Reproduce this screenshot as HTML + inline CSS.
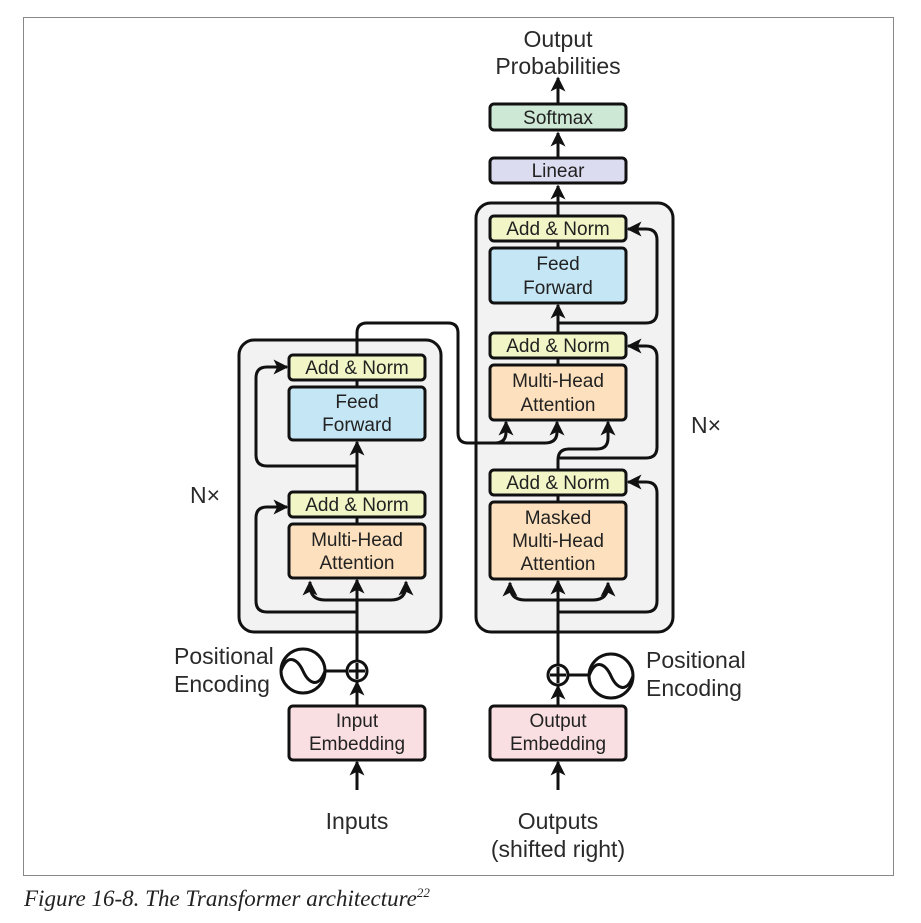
<!DOCTYPE html>
<html><head><style>
html,body{margin:0;padding:0;background:#fff;}
svg{display:block;}
text{font-family:"Liberation Sans",sans-serif;font-size:19px;fill:#222;}
.o{font-size:23px;fill:#2a2a2a;}
.b{stroke:#111;stroke-width:3;}
.l{stroke:#111;stroke-width:3;fill:none;}
</style></head><body>
<svg width="921" height="923" viewBox="0 0 921 923">
<defs>
<marker id="a" viewBox="0 0 10 10" refX="9" refY="5" markerWidth="5" markerHeight="5" orient="auto" markerUnits="strokeWidth">
<path d="M0,0 L10,5 L0,10 L2.5,5 z" fill="#111"/></marker>
</defs>
<rect x="23.5" y="17.5" width="870" height="858" fill="#fff" stroke="#888" stroke-width="1"/>
<rect x="239" y="340" width="202" height="292" rx="15" fill="#f2f2f2" class="b"/>
<rect x="476" y="203" width="197" height="429" rx="15" fill="#f2f2f2" class="b"/>

<path class="l" d="M357 790 V762" marker-end="url(#a)"/>
<path class="l" d="M357 706 V682" marker-end="url(#a)"/>
<path class="l" d="M357 661 V580" marker-end="url(#a)"/>
<path class="l" d="M357 600 H325 Q310 600 310 585 V582" marker-end="url(#a)"/>
<path class="l" d="M357 600 H391 Q406 600 406 585 V582" marker-end="url(#a)"/>
<path class="l" d="M357 612 H267 Q256 612 256 601 V518 Q256 507 267 507 H287" marker-end="url(#a)"/>
<path class="l" d="M357 492 V442" marker-end="url(#a)"/>
<path class="l" d="M357 466 H267 Q256 466 256 455 V378 Q256 367 267 367 H287" marker-end="url(#a)"/>
<path class="l" d="M357 355 V333 Q357 323 367 323 H448 Q458 323 458 333 V433 Q458 443 468 443 H495 Q506 443 506 432 V422" marker-end="url(#a)"/>
<path class="l" d="M495 443 H545 Q557 443 557 432 V422" marker-end="url(#a)"/>
<line class="l" x1="357" y1="387" x2="357" y2="380"/>
<line class="l" x1="357" y1="524" x2="357" y2="517"/>

<path class="l" d="M558 790 V762" marker-end="url(#a)"/>
<path class="l" d="M558 706 V686" marker-end="url(#a)"/>
<path class="l" d="M558 665 V581" marker-end="url(#a)"/>
<path class="l" d="M558 600 H525 Q510 600 510 585 V583" marker-end="url(#a)"/>
<path class="l" d="M558 600 H593 Q608 600 608 585 V583" marker-end="url(#a)"/>
<path class="l" d="M558 612 H646 Q657 612 657 601 V493 Q657 482 646 482 H628" marker-end="url(#a)"/>
<line class="l" x1="558" y1="502" x2="558" y2="495"/>
<path class="l" d="M558 470 V460 Q558 449 569 449 H597 Q608 449 608 438 V422" marker-end="url(#a)"/>
<path class="l" d="M558 458 H646 Q657 458 657 447 V357 Q657 346 646 346 H628" marker-end="url(#a)"/>
<line class="l" x1="558" y1="365" x2="558" y2="358"/>
<path class="l" d="M558 333 V305" marker-end="url(#a)"/>
<path class="l" d="M558 323 H646 Q657 323 657 312 V240 Q657 229 646 229 H628" marker-end="url(#a)"/>
<line class="l" x1="558" y1="248" x2="558" y2="241"/>
<path class="l" d="M558 216 V186" marker-end="url(#a)"/>
<path class="l" d="M558 158 V133" marker-end="url(#a)"/>
<path class="l" d="M558 105 V78" marker-end="url(#a)"/>

<rect x="289" y="355" width="136" height="25" rx="4" fill="#f2f5c6" class="b"/>
<text x="357" y="374" text-anchor="middle">Add &amp; Norm</text>
<rect x="289" y="387" width="136" height="53" rx="4" fill="#c5e6f5" class="b"/>
<text x="357" y="408" text-anchor="middle">Feed</text>
<text x="357" y="431" text-anchor="middle">Forward</text>
<rect x="289" y="492" width="136" height="25" rx="4" fill="#f2f5c6" class="b"/>
<text x="357" y="511" text-anchor="middle">Add &amp; Norm</text>
<rect x="289" y="524" width="136" height="54" rx="4" fill="#fde1be" class="b"/>
<text x="357" y="546" text-anchor="middle">Multi-Head</text>
<text x="357" y="569" text-anchor="middle">Attention</text>
<rect x="289" y="706" width="136" height="54" rx="4" fill="#fadfe2" class="b"/>
<text x="357" y="727" text-anchor="middle">Input</text>
<text x="357" y="750" text-anchor="middle">Embedding</text>

<rect x="490" y="104" width="136" height="26" rx="4" fill="#cde8d5" class="b"/>
<text x="558" y="124" text-anchor="middle">Softmax</text>
<rect x="490" y="158" width="136" height="25" rx="4" fill="#dcdcf0" class="b"/>
<text x="558" y="177" text-anchor="middle">Linear</text>
<rect x="490" y="216" width="136" height="25" rx="4" fill="#f2f5c6" class="b"/>
<text x="558" y="235" text-anchor="middle">Add &amp; Norm</text>
<rect x="490" y="248" width="136" height="55" rx="4" fill="#c5e6f5" class="b"/>
<text x="558" y="270" text-anchor="middle">Feed</text>
<text x="558" y="294" text-anchor="middle">Forward</text>
<rect x="490" y="333" width="136" height="25" rx="4" fill="#f2f5c6" class="b"/>
<text x="558" y="352" text-anchor="middle">Add &amp; Norm</text>
<rect x="490" y="365" width="136" height="55" rx="4" fill="#fde1be" class="b"/>
<text x="558" y="387" text-anchor="middle">Multi-Head</text>
<text x="558" y="411" text-anchor="middle">Attention</text>
<rect x="490" y="470" width="136" height="25" rx="4" fill="#f2f5c6" class="b"/>
<text x="558" y="489" text-anchor="middle">Add &amp; Norm</text>
<rect x="490" y="502" width="136" height="77" rx="4" fill="#fde1be" class="b"/>
<text x="558" y="524" text-anchor="middle">Masked</text>
<text x="558" y="547" text-anchor="middle">Multi-Head</text>
<text x="558" y="570" text-anchor="middle">Attention</text>
<rect x="490" y="706" width="136" height="54" rx="4" fill="#fadfe2" class="b"/>
<text x="558" y="727" text-anchor="middle">Output</text>
<text x="558" y="750" text-anchor="middle">Embedding</text>

<line class="l" x1="325" y1="671" x2="347" y2="671"/>
<circle cx="357" cy="671" r="10" fill="#fff" class="b" stroke-width="2"/>
<path class="l" stroke-width="2" d="M357 663 V679 M349 671 H365"/>
<circle cx="303" cy="671" r="22" fill="#fff" class="b"/>
<path class="l" stroke-width="2.5" d="M281 671 C288 652 298 660 303 671 C308 682 318 690 325 671"/>

<line class="l" x1="568" y1="675" x2="589" y2="675"/>
<circle cx="558" cy="675" r="10" fill="#fff" class="b" stroke-width="2"/>
<path class="l" stroke-width="2" d="M558 667 V683 M550 675 H566"/>
<circle cx="611" cy="676" r="22" fill="#fff" class="b"/>
<path class="l" stroke-width="2.5" d="M589 676 C596 657 606 665 611 676 C616 687 626 695 633 676"/>

<text x="174" y="664" class="o">Positional</text>
<text x="174" y="692" class="o">Encoding</text>
<text x="646" y="668" class="o">Positional</text>
<text x="646" y="696" class="o">Encoding</text>

<text x="357" y="829" text-anchor="middle" class="o">Inputs</text>
<text x="558" y="829" text-anchor="middle" class="o">Outputs</text>
<text x="558" y="857" text-anchor="middle" class="o">(shifted right)</text>
<text x="558" y="47" text-anchor="middle" class="o">Output</text>
<text x="558" y="74" text-anchor="middle" class="o">Probabilities</text>
<text x="205" y="503" text-anchor="middle" class="o">N×</text>
<text x="706" y="433" text-anchor="middle" class="o">N×</text>

<text x="24" y="906" style="font-family:'Liberation Serif',serif;font-style:italic;font-size:23px;fill:#222">Figure 16-8. The Transformer architecture<tspan font-size="13" dy="-9">22</tspan></text>
</svg>
</body></html>
